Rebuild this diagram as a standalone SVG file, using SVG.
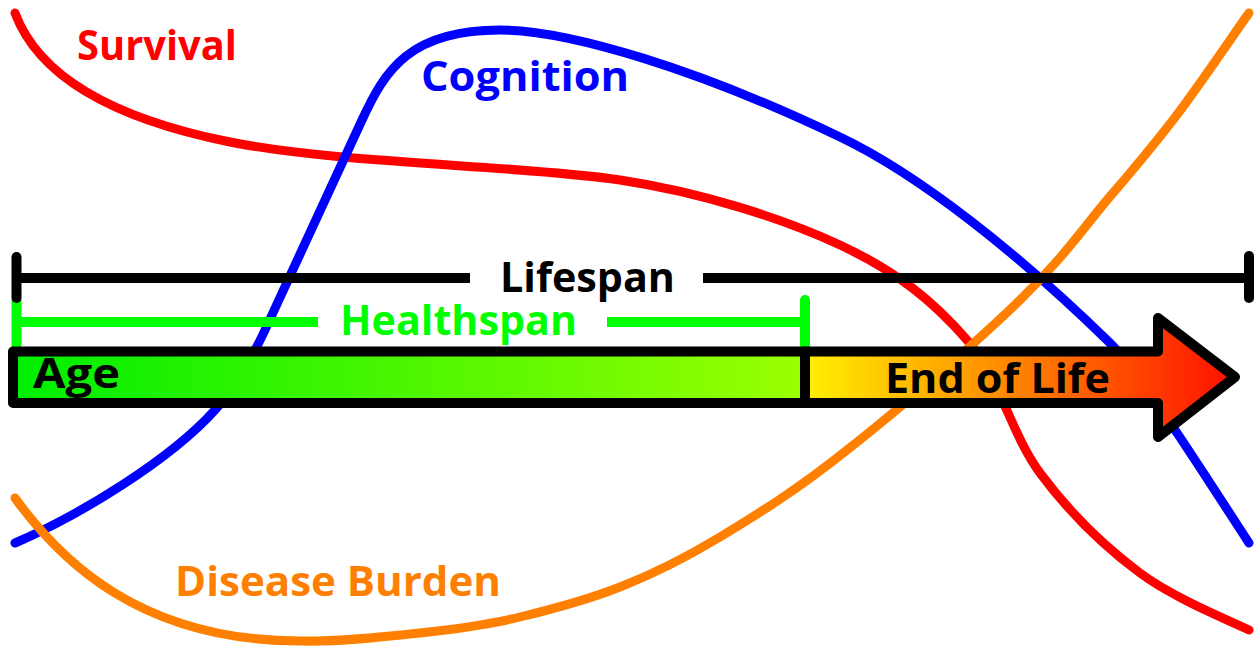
<svg xmlns="http://www.w3.org/2000/svg" width="1258" height="652" viewBox="0 0 1258 652">
<style>
.curve{fill:none;stroke-width:9;stroke-linecap:round;stroke-linejoin:round}
.lbl{font-family:"Open Sans","Noto Sans","DejaVu Sans",sans-serif;font-weight:bold;font-size:42px}
.bk{stroke:#000;stroke-width:10;fill:none}
.gr{stroke:#00ff00;stroke-width:10;fill:none}
</style>
<defs>
<linearGradient id="gAge" gradientUnits="userSpaceOnUse" x1="18" y1="0" x2="800" y2="0">
<stop offset="0" stop-color="#00ee00"/><stop offset="1" stop-color="#99ff00"/>
</linearGradient>
<linearGradient id="gEnd" gradientUnits="userSpaceOnUse" x1="810" y1="0" x2="1235" y2="0">
<stop offset="0" stop-color="#ffee00"/><stop offset="0.5" stop-color="#ff8000"/><stop offset="1" stop-color="#ff1000"/>
</linearGradient>
</defs>
<rect width="1258" height="652" fill="#fff"/>
<g id="connectors">
<path id="survival-curve" class="curve" stroke="#ff0000" d="M15,13 C40,80 120,120 230,142 C340,164 520,165 620,180 C700,192 782,218 840,245 C898,272 934,302 967,340 C1000,378 1011,434 1040,473 C1069,512 1105,547 1140,573 C1175,599 1231,621 1249,630"/>
<path id="cognition-curve" class="curve" stroke="#0000ff" d="M15,543 C80,515 170,460 215,410 C235,388 255,352 265,330 L362,120 C385,70 410,30 500,30 C570,30 700,70 840,137 C920,175 1020,255 1110,343 C1140,373 1195,460 1249,543"/>
<path id="disease-curve" class="curve" stroke="#ff8000" d="M15,498 C60,560 140,641 300,641 C337,642 383,637 420,633 C457,629 487,625 520,617 C553,609 587,600 620,587 C653,574 682,560 720,537 C758,514 797,490 847,450 C897,411 977,342 1020,300 C1063,258 1082,230 1107,200 C1133,170 1149,151 1173,120 C1197,89 1236,31 1249,13"/>
</g>
<g id="curve-labels">
<text class="lbl" x="77" y="60" fill="#ff0000" textLength="160" lengthAdjust="spacingAndGlyphs">Survival</text>
<text class="lbl" x="421" y="91" fill="#0000ff" textLength="208" lengthAdjust="spacingAndGlyphs">Cognition</text>
<text class="lbl" x="175" y="596" fill="#ff8000" textLength="326" lengthAdjust="spacingAndGlyphs">Disease Burden</text>
</g>
<g id="healthspan">
<line class="gr" x1="16.5" y1="300" x2="16.5" y2="350"/>
<line class="gr" x1="805" y1="300" x2="805" y2="350" stroke-linecap="round"/>
<line class="gr" x1="16" y1="322" x2="805" y2="322"/>
<rect x="318" y="298" width="289" height="43" fill="#fff"/>
<text class="lbl" x="340" y="335" fill="#00ff00" textLength="237" lengthAdjust="spacingAndGlyphs">Healthspan</text>
</g>
<g id="lifespan">
<line class="bk" x1="16" y1="278" x2="1249" y2="278"/>
<line class="bk" x1="16.5" y1="257" x2="16.5" y2="298" stroke-linecap="round"/>
<line class="bk" x1="1249" y1="256" x2="1249" y2="298" stroke-linecap="round"/>
<rect x="470" y="253" width="233" height="43" fill="#fff"/>
<text class="lbl" x="500" y="292" fill="#000" textLength="175" lengthAdjust="spacingAndGlyphs">Lifespan</text>
</g>
<g id="age">
<rect x="13" y="351.5" width="792" height="51.5" fill="url(#gAge)" stroke="#000" stroke-width="10" stroke-linejoin="round"/>
<text class="lbl" x="33" y="388" fill="#000" textLength="87" lengthAdjust="spacingAndGlyphs">Age</text>
</g>
<g id="end-of-life">
<path d="M805,351.5 H1158 V318 L1235,377 L1158,437 V403 H805 Z" fill="url(#gEnd)" stroke="#000" stroke-width="10" stroke-linejoin="round"/>
<text class="lbl" x="885" y="393" fill="#000" textLength="225" lengthAdjust="spacingAndGlyphs">End of Life</text>
</g>
</svg>
